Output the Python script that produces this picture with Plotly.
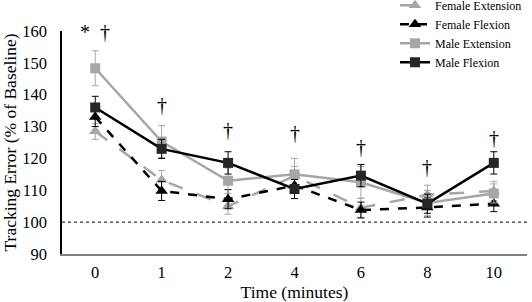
import plotly.graph_objects as go

times = ["0", "1", "2", "4", "6", "8", "10"]
female_ext = [128.5, 113.2, 105.0, 114.5, 104.5, 108.6, 109.8]
female_ext_err = [2.5, 3, 2.5, 3, 3, 3, 3]
female_flex = [133.0, 109.8, 107.2, 111.5, 103.8, 104.6, 105.8]
female_flex_err = [3, 3, 3, 2.5, 2.5, 3, 2.5]
male_ext = [148.3, 125.3, 113.0, 115.0, 112.5, 106.0, 109.0]
male_ext_err = [5.5, 5, 4, 5, 5, 4, 3]
male_flex = [136.0, 123.0, 118.6, 110.4, 114.6, 105.8, 118.6]
male_flex_err = [3.5, 3, 3.5, 3, 3.5, 3, 3.5]
sig_labels = ["*  †", "†", "†", "†", "†", "†", "†"]
sig_y = [159.8, 136.7, 128.8, 128.0, 123.5, 117.2, 126.3]

GRAY = "#a6a6a6"
BLACK = "#000000"
SERIF = "Liberation Serif, Times New Roman, serif"
fig = go.Figure()

def add(name, y, err, color, symbol, dash, mcolor, size):
    fig.add_trace(go.Scatter(
        x=times, y=y, name=name, mode="lines+markers",
        line=dict(color=color, width=2.5, dash=dash),
        marker=dict(symbol=symbol, size=size, color=mcolor),
        error_y=dict(type="data", array=err, visible=True, color=color, thickness=1, width=3.5),
    ))

add("Female Extension", female_ext, female_ext_err, GRAY, "triangle-up", "longdash", GRAY, 11)
add("Female Flexion", female_flex, female_flex_err, BLACK, "triangle-up", "dash", BLACK, 11)
add("Male Extension", male_ext, male_ext_err, GRAY, "square", "solid", GRAY, 10)
add("Male Flexion", male_flex, male_flex_err, BLACK, "square", "solid", "#262626", 10)

fig.add_shape(type="line", xref="paper", x0=0, x1=1, yref="y", y0=100, y1=100,
              line=dict(color="black", width=1, dash="dot"))

for i, (lab, yy) in enumerate(zip(sig_labels, sig_y)):
    fig.add_annotation(x=i, y=yy, text=lab, showarrow=False, yanchor="middle",
                       font=dict(size=20, color="#000000", family=SERIF))

fig.update_layout(
    width=532, height=302,
    margin=dict(l=62, r=5, t=31, b=48, autoexpand=False),
    plot_bgcolor="white", paper_bgcolor="white",
    font=dict(family=SERIF, size=16, color="black"),
    showlegend=True,
    legend=dict(x=1.0, y=1.18, xanchor="right", yanchor="top", font=dict(size=12),
                bgcolor="rgba(255,255,255,0)", tracegroupgap=0, itemwidth=30,
                borderwidth=0),
    xaxis=dict(type="category", range=[-0.5, 6.5], showgrid=False, showline=True, linecolor="#808080",
               linewidth=1.5, ticks="outside", ticklen=2, tickcolor="rgba(0,0,0,0)",
               title=dict(text="Time (minutes)", font=dict(size=17.5), standoff=0),
               tickfont=dict(size=16.5)),
    yaxis=dict(range=[90, 160], dtick=10, showgrid=False, showline=True, linecolor="black",
               linewidth=1.5, ticks="outside", ticklen=10, tickcolor="rgba(0,0,0,0)", zeroline=False,
               title=dict(text="Tracking Error (% of Baseline)", font=dict(size=17.5), standoff=4),
               tickfont=dict(size=16.5)),
)
fig.write_html("out.html", config={"displayModeBar": False},
               post_script="document.body.style.margin='0';document.body.style.padding='0';")
